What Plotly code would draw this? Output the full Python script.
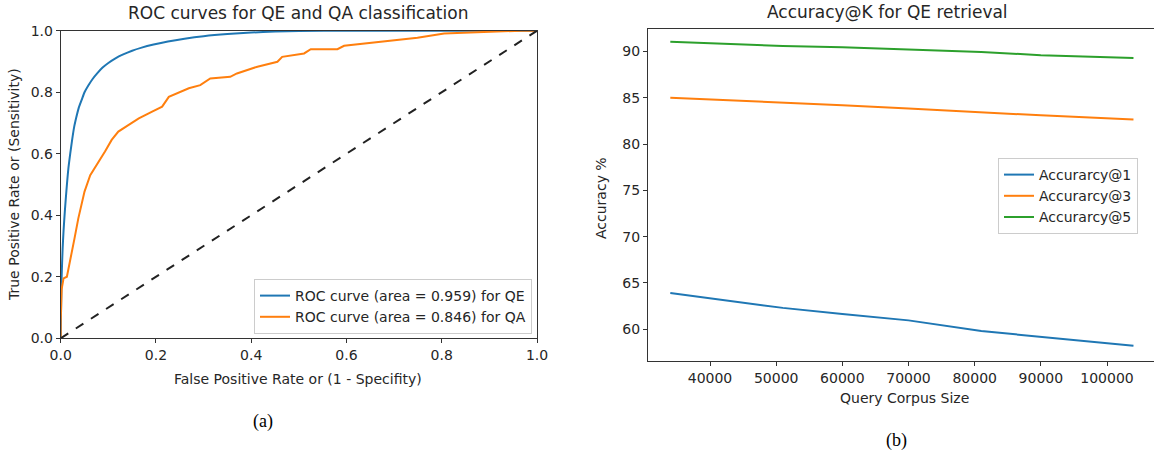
import plotly.graph_objects as go

# ---------------- data ----------------
# ROC curve for QE (area = 0.959)
qe_fpr = [0.0, 0.001, 0.002, 0.004, 0.006, 0.009, 0.012, 0.016, 0.02, 0.024, 0.028, 0.033,
          0.038, 0.044, 0.05, 0.058, 0.067, 0.077, 0.088, 0.1, 0.115, 0.13, 0.15, 0.17,
          0.195, 0.225, 0.26, 0.3, 0.35, 0.4, 0.45, 0.5, 0.6, 0.8, 1.0]
qe_tpr = [0.0, 0.12, 0.2, 0.29, 0.35, 0.42, 0.48, 0.55, 0.6, 0.645, 0.685, 0.72,
          0.75, 0.775, 0.8, 0.822, 0.843, 0.862, 0.88, 0.895, 0.91, 0.922, 0.935, 0.945,
          0.955, 0.965, 0.974, 0.982, 0.989, 0.994, 0.997, 0.999, 1.0, 1.0, 1.0]

# ROC curve for QA (area = 0.846)
qa_fpr = [0.0, 0.0, 0.002, 0.006, 0.013, 0.02, 0.029, 0.037, 0.05, 0.062, 0.079, 0.093,
          0.107, 0.121, 0.142, 0.164, 0.192, 0.213, 0.227, 0.248, 0.269, 0.293, 0.314,
          0.356, 0.37, 0.413, 0.455, 0.465, 0.511, 0.525, 0.581, 0.595, 0.644, 0.693,
          0.749, 0.805, 0.918, 0.967, 1.0]
qa_tpr = [0.0, 0.054, 0.16, 0.195, 0.2, 0.26, 0.325, 0.39, 0.477, 0.53, 0.57, 0.607,
          0.645, 0.672, 0.693, 0.715, 0.737, 0.753, 0.785, 0.8, 0.813, 0.823, 0.845,
          0.85, 0.861, 0.883, 0.899, 0.915, 0.926, 0.94, 0.94, 0.951, 0.959, 0.969,
          0.977, 0.991, 0.998, 1.0, 1.0]

diag = [0.0, 1.0]

# Accuracy@K vs query corpus size
corpus_size = [34000, 51000, 60000, 70000, 81000, 90000, 104000]
acc_at_1 = [63.9, 62.3, 61.65, 60.95, 59.8, 59.2, 58.2]
acc_at_3 = [85.0, 84.5, 84.2, 83.85, 83.4, 83.1, 82.65]
acc_at_5 = [91.05, 90.6, 90.45, 90.2, 89.95, 89.6, 89.3]

roc_ticks = [0.0, 0.2, 0.4, 0.6, 0.8, 1.0]
roc_ticktext = ["0.0", "0.2", "0.4", "0.6", "0.8", "1.0"]
size_ticks = [40000, 50000, 60000, 70000, 80000, 90000, 100000]
size_ticktext = ["40000", "50000", "60000", "70000", "80000", "90000", "100000"]
acc_ticks = [60, 65, 70, 75, 80, 85, 90]

# ---------------- figure ----------------
W, H = 1154, 456
BLUE, ORANGE, GREEN = "#1f77b4", "#ff7f0e", "#2ca02c"
FONT = "DejaVu Sans"
TXT = "#262626"

def px_x(p):
    return p / W

def px_y(p):
    return 1 - p / H

fig = go.Figure()

fig.add_trace(go.Scatter(x=qe_fpr, y=qe_tpr, mode="lines",
                         line=dict(color=BLUE, width=2, shape="spline", smoothing=0.6),
                         name="ROC curve (area = 0.959) for QE",
                         xaxis="x", yaxis="y", legend="legend"))
fig.add_trace(go.Scatter(x=qa_fpr, y=qa_tpr, mode="lines",
                         line=dict(color=ORANGE, width=2),
                         name="ROC curve (area = 0.846) for QA",
                         xaxis="x", yaxis="y", legend="legend"))
fig.add_trace(go.Scatter(x=diag, y=diag, mode="lines",
                         line=dict(color="#222222", width=2, dash="dash"),
                         showlegend=False, xaxis="x", yaxis="y"))

fig.add_trace(go.Scatter(x=corpus_size, y=acc_at_1, mode="lines",
                         line=dict(color=BLUE, width=2), name="Accurarcy@1",
                         xaxis="x2", yaxis="y2", legend="legend2"))
fig.add_trace(go.Scatter(x=corpus_size, y=acc_at_3, mode="lines",
                         line=dict(color=ORANGE, width=2), name="Accurarcy@3",
                         xaxis="x2", yaxis="y2", legend="legend2"))
fig.add_trace(go.Scatter(x=corpus_size, y=acc_at_5, mode="lines",
                         line=dict(color=GREEN, width=2), name="Accurarcy@5",
                         xaxis="x2", yaxis="y2", legend="legend2"))

axis_common = dict(showline=True, linecolor="#333333", linewidth=1,
                   ticks="outside", ticklen=4, tickcolor="#333333",
                   showgrid=False, zeroline=False, automargin=False,
                   tickfont=dict(family=FONT, size=14, color=TXT))

fig.update_layout(
    width=W, height=H,
    margin=dict(l=0, r=0, t=0, b=0, autoexpand=False),
    paper_bgcolor="white", plot_bgcolor="white",
    font=dict(family=FONT, color=TXT),
    xaxis=dict(domain=[px_x(60.7), px_x(537)], range=[0, 1], anchor="y",
               tickvals=roc_ticks, ticktext=roc_ticktext, mirror=True, **axis_common),
    yaxis=dict(domain=[px_y(338.3), px_y(30.7)], range=[0, 1], anchor="x",
               tickvals=roc_ticks, ticktext=roc_ticktext, mirror=True, **axis_common),
    xaxis2=dict(domain=[px_x(648), 1.0], range=[30630, 107103], anchor="y2",
                tickvals=size_ticks, ticktext=size_ticktext, mirror=True, **axis_common),
    yaxis2=dict(domain=[px_y(361), px_y(29.3)], range=[56.56, 92.4], anchor="x2",
                tickvals=acc_ticks, **axis_common),
    legend=dict(x=px_x(532), y=px_y(334), xanchor="right", yanchor="bottom",
                bgcolor="rgba(255,255,255,0.8)", bordercolor="#cccccc", borderwidth=1,
                font=dict(family=FONT, size=14, color=TXT), tracegroupgap=0,
                itemwidth=30),
    legend2=dict(x=px_x(998), y=px_y(158), xanchor="left", yanchor="top",
                 bgcolor="rgba(255,255,255,0.8)", bordercolor="#cccccc", borderwidth=1,
                 font=dict(family=FONT, size=14, color=TXT), tracegroupgap=0,
                 itemwidth=30),
    showlegend=True,
)

def text(x, y, s, size=14, angle=0, family=FONT, color=TXT):
    fig.add_annotation(x=px_x(x), y=px_y(y), xref="paper", yref="paper",
                       text=s, showarrow=False, textangle=angle,
                       xanchor="center", yanchor="middle",
                       font=dict(family=family, size=size, color=color))

text(298, 13, "ROC curves for QE and QA classification", size=17)
text(298, 379, "False Positive Rate or (1 - Specifity)")
text(14, 185, "True Positive Rate or (Sensitivity)", angle=-90)
text(888, 12, "Accuracy@K for QE retrieval", size=17)
text(904, 398, "Query Corpus Size")
text(601, 198, "Accuracy %", angle=-90)
text(263, 421, "(a)", size=18, family="Liberation Serif", color="#000000")
text(896, 440, "(b)", size=18, family="Liberation Serif", color="#000000")

fig.write_html("out.html", config={"displayModeBar": False},
               post_script="document.body.style.margin='0';document.body.style.overflow='hidden';")
